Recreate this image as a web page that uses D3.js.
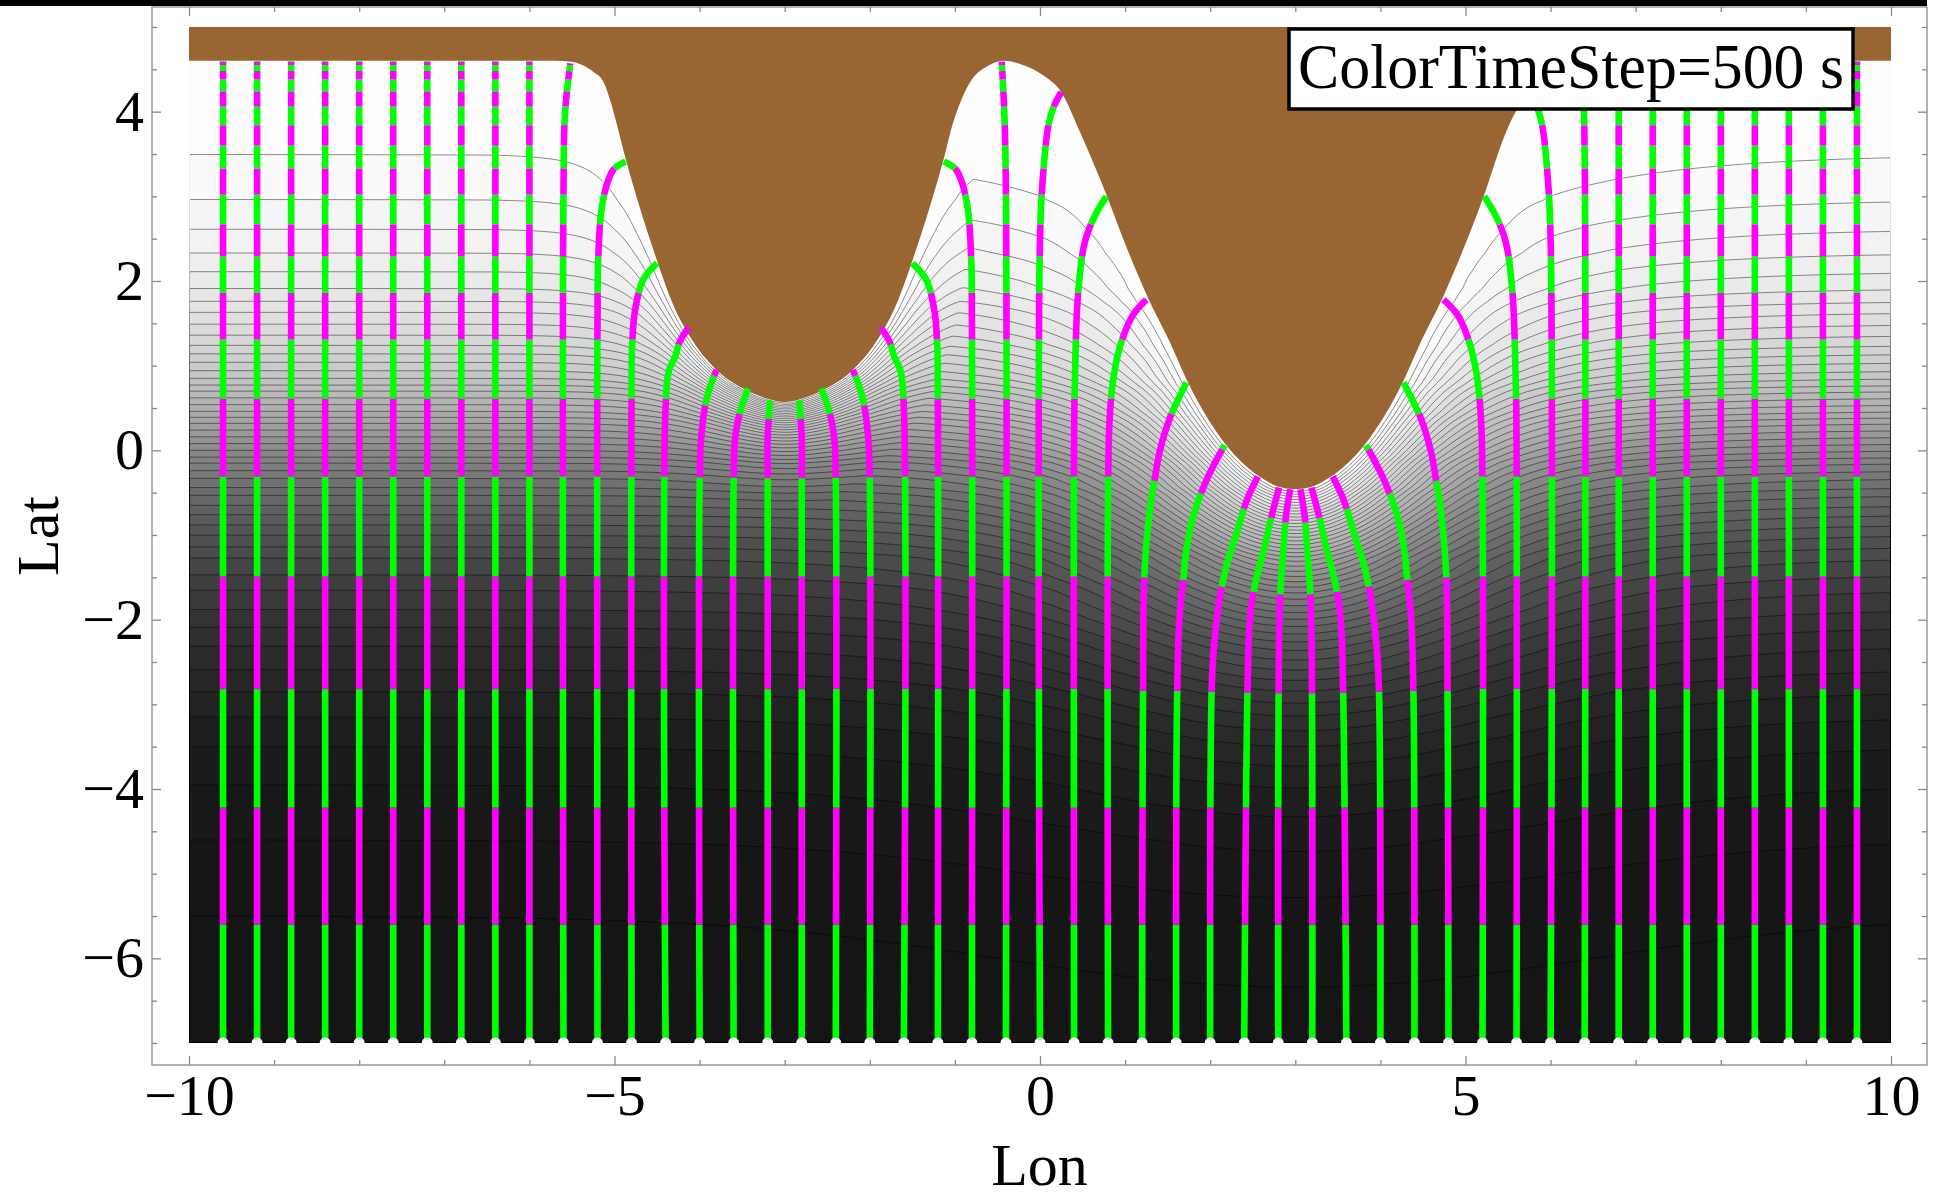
<!DOCTYPE html>
<html><head><meta charset="utf-8">
<script src="https://cdn.jsdelivr.net/npm/d3@7"></script>
<style>body{margin:0;background:#fff}svg{display:block}</style>
</head><body>
<svg id="chart" width="1937" height="1199"></svg>
<script>
// ---------------- data ----------------
const xTicks = [-10, -5, 0, 5, 10];
const xMinorTicks = [-9,-8,-7,-6,-4,-3,-2,-1,1,2,3,4,6,7,8,9];
const yTicks = [-6, -4, -2, 0, 2, 4];
const yMinorTicks = [-7,-6.5,-5.5,-5,-4.5,-3.5,-3,-2.5,-1.5,-1,-0.5,0.5,1,1.5,2.5,3,3.5,4.5,5];
const labelText = "ColorTimeStep=500 s";

// coastline (lon, lat) – land (brown) lies above it
const coastline = [
  [-10,4.6],[-5.7,4.6],[-5.5,4.59],[-5.38,4.55],[-5.25,4.47],[-5.13,4.35],[-5.04,4.1],[-4.97,3.84],[-4.86,3.41],
  [-4.70,2.86],[-4.51,2.27],[-4.31,1.72],[-4.08,1.29],[-3.78,0.93],[-3.45,0.71],[-3.2,0.61],[-3.0,0.57],
  [-2.8,0.61],[-2.55,0.71],[-2.22,0.93],[-1.92,1.29],[-1.69,1.72],[-1.49,2.27],[-1.30,2.86],[-1.14,3.41],
  [-1.03,3.84],[-0.92,4.15],[-0.8,4.38],[-0.63,4.53],[-0.42,4.6],[-0.2,4.55],[0.05,4.42],[0.25,4.23],
  [0.47,3.76],[0.78,3.02],[1.02,2.39],[1.27,1.80],[1.52,1.29],[1.73,0.82],[2.19,0.06],[2.58,-0.31],
  [2.84,-0.44],[3.0,-0.46],[3.16,-0.44],[3.42,-0.31],[3.81,0.06],[4.27,0.82],[4.48,1.29],[4.73,1.80],
  [4.98,2.39],[5.22,3.02],[5.43,3.64],[5.58,3.98],[5.75,4.23],[5.95,4.42],[6.2,4.55],[6.5,4.6],[10,4.6]
];

// latitude of each depth contour far from the headlands (shore -> deep)
const contourLevelLats = [3.49,2.96,2.61,2.33,2.11,1.91,1.76,1.63,1.49,1.36,1.24,1.14,1.04,0.94,0.85,0.77,
  0.70,0.62,0.54,0.46,0.39,0.32,0.24,0.16,0.08,0.0,-0.08,-0.15,-0.24,-0.33,-0.44,-0.53,-0.65,-0.76,-0.88,
  -1.0,-1.14,-1.27,-1.47,-1.65,-1.88,-2.09,-2.31,-2.59,-2.85,-3.15,-3.5,-3.95,-4.6,-5.5];

// how far (in degrees) the shallow water of the coast reaches out, along the coast
const reachByLon = [[-10,0.35],[-5.5,0.35],[-3,0.33],[-1,0.4],[0,0.55],[1,0.8],[2,1.05],[3,1.3],[4,1.05],[5,0.8],[6,0.55],[10,0.35]];

// grey tone of the shading against latitude (far from headlands)
const shadeByLat = [[-7,21],[-5,22],[-4,25],[-3.5,28],[-3,34],[-2.5,41],[-2,51],[-1.5,64],[-1,82],[-0.5,106],
  [0,138],[0.5,176],[1,204],[1.5,222],[2,234],[2.5,242],[3,248],[3.5,252],[4.6,255]];

// rays: start longitudes
const rayStartX = [-9.6,-9.2,-8.8,-8.4,-8.0,-7.6,-7.2,-6.8,-6.4,-6.0,-5.6,-5.2,-4.8,-4.4,-4.0,-3.6,-3.2,-2.8,
  -2.4,-2.0,-1.6,-1.2,-0.8,-0.4,0.0,0.4,0.8,1.2,1.6,2.0,2.4,2.8,3.2,3.6,4.0,4.4,4.8,5.2,5.6,6.0,6.4,6.8,7.2,
  7.6,8.0,8.4,8.8,9.2,9.6];

// bent rays: (lon, lat) points read along each ray
const rayPaths = {
  "-5.6": [[-5.6,-7],[-5.6,3.0],[-5.58,4.0],[-5.52,4.57]],
  "-5.2": [[-5.2,-7],[-5.2,1.5],[-5.19,2.3],[-5.15,2.86],[-5.08,3.17],[-5.0,3.33],[-4.87,3.41]],
  "-4.8": [[-4.8,-7],[-4.8,0.5],[-4.79,1.3],[-4.75,1.7],[-4.66,2.02],[-4.5,2.21]],
  "-4.4": [[-4.4,-7],[-4.4,0.5],[-4.36,0.94],[-4.29,1.10],[-4.23,1.29],[-4.13,1.45]],
  "-4.0": [[-4.0,-7],[-4.0,-0.4],[-3.98,0.16],[-3.93,0.55],[-3.86,0.8],[-3.80,0.95]],
  "-3.6": [[-3.6,-7],[-3.6,-0.4],[-3.58,0.16],[-3.52,0.47],[-3.43,0.73]],
  "-3.2": [[-3.2,-7],[-3.2,-0.4],[-3.2,0.16],[-3.17,0.59]],
  "-2.8": [[-2.8,-7],[-2.8,-0.4],[-2.8,0.16],[-2.83,0.59]],
  "-2.4": [[-2.4,-7],[-2.4,-0.4],[-2.42,0.16],[-2.48,0.47],[-2.57,0.73]],
  "-2.0": [[-2.0,-7],[-2.0,-0.4],[-2.02,0.16],[-2.07,0.55],[-2.14,0.8],[-2.20,0.95]],
  "-1.6": [[-1.6,-7],[-1.6,0.5],[-1.64,0.94],[-1.71,1.10],[-1.77,1.29],[-1.87,1.45]],
  "-1.2": [[-1.2,-7],[-1.2,0.5],[-1.21,1.3],[-1.25,1.7],[-1.34,2.02],[-1.5,2.21]],
  "-0.8": [[-0.8,-7],[-0.8,1.5],[-0.81,2.3],[-0.85,2.86],[-0.92,3.17],[-1.0,3.33],[-1.13,3.41]],
  "-0.4": [[-0.4,-7],[-0.4,3.0],[-0.42,4.0],[-0.45,4.59]],
  "0.0": [[0.0,-7],[0.0,2.5],[0.04,3.3],[0.10,3.84],[0.17,4.08],[0.25,4.23]],
  "0.4": [[0.4,-7],[0.4,0.0],[0.41,0.82],[0.45,1.88],[0.53,2.47],[0.65,2.78],[0.78,3.0]],
  "0.8": [[0.8,-7],[0.8,-0.5],[0.82,0.4],[0.87,0.9],[0.96,1.29],[1.1,1.61],[1.25,1.78]],
  "1.2": [[1.2,-7],[1.21,-3.06],[1.23,-1.41],[1.3,-0.63],[1.34,-0.39],[1.41,0.0],[1.53,0.39],[1.72,0.80]],
  "1.6": [[1.6,-7],[1.61,-3.0],[1.64,-1.96],[1.68,-1.57],[1.72,-1.18],[1.80,-0.78],[1.94,-0.39],[2.07,-0.12],[2.17,0.06]],
  "2.0": [[2.0,-7],[2.02,-2.74],[2.06,-2.16],[2.11,-1.76],[2.19,-1.37],[2.31,-0.98],[2.43,-0.59],[2.56,-0.31]],
  "2.4": [[2.4,-7],[2.44,-2.74],[2.47,-1.96],[2.53,-1.57],[2.63,-1.18],[2.72,-0.78],[2.81,-0.44]],
  "2.8": [[2.8,-7],[2.81,-2.16],[2.83,-1.57],[2.86,-1.18],[2.89,-0.78],[2.94,-0.46]],
  "3.2": [[3.2,-7],[3.19,-2.16],[3.17,-1.57],[3.14,-1.18],[3.11,-0.78],[3.06,-0.46]],
  "3.6": [[3.6,-7],[3.56,-2.74],[3.53,-1.96],[3.47,-1.57],[3.37,-1.18],[3.28,-0.78],[3.19,-0.44]],
  "4.0": [[4.0,-7],[3.98,-2.74],[3.94,-2.16],[3.89,-1.76],[3.81,-1.37],[3.69,-0.98],[3.57,-0.59],[3.44,-0.31]],
  "4.4": [[4.4,-7],[4.39,-3.0],[4.36,-1.96],[4.32,-1.57],[4.28,-1.18],[4.20,-0.78],[4.06,-0.39],[3.93,-0.12],[3.83,0.06]],
  "4.8": [[4.8,-7],[4.79,-3.06],[4.77,-1.41],[4.7,-0.63],[4.66,-0.39],[4.59,0.0],[4.47,0.39],[4.27,0.80]],
  "5.2": [[5.2,-7],[5.2,-0.5],[5.18,0.4],[5.13,0.9],[5.04,1.29],[4.90,1.61],[4.74,1.78]],
  "5.6": [[5.6,-7],[5.6,0.0],[5.59,0.82],[5.55,1.88],[5.47,2.47],[5.35,2.78],[5.22,3.0]],
  "6.0": [[6.0,-7],[6.0,2.5],[5.96,3.3],[5.9,3.84],[5.83,4.08],[5.75,4.23]],
  "6.4": [[6.4,-7],[6.4,3.5],[6.38,4.2],[6.33,4.56]]
};

// latitudes where a ray switches colour (green first, from the bottom)
const flatBreaks = [-5.60,-4.22,-2.82,-1.49,-0.31,0.61,1.31,1.86,2.29,2.67,3.02,3.33,3.60,3.84,4.06,4.24,4.38,4.48,4.55,4.59];
const rayBreaks = {
  "-4.4": [-5.60,-4.22,-2.82,-1.49,-0.31,0.61,1.25],
  "-4.0": [-5.60,-4.22,-2.82,-1.49,-0.32,0.53,0.88],
  "-3.6": [-5.60,-4.22,-2.82,-1.49,-0.32,0.43],
  "-3.2": [-5.60,-4.22,-2.82,-1.49,-0.33,0.37],
  "-2.8": [-5.60,-4.22,-2.82,-1.49,-0.33,0.37],
  "-2.4": [-5.60,-4.22,-2.82,-1.49,-0.32,0.43],
  "-2.0": [-5.60,-4.22,-2.82,-1.49,-0.32,0.53,0.88],
  "-1.6": [-5.60,-4.22,-2.82,-1.49,-0.31,0.61,1.25],
  "1.2": [-5.60,-4.22,-2.84,-1.50,-0.36,0.43],
  "1.6": [-5.60,-4.22,-2.84,-1.53,-0.51,0.01],
  "2.0": [-5.60,-4.22,-2.85,-1.61,-0.69],
  "2.4": [-5.60,-4.22,-2.86,-1.67,-0.80],
  "2.8": [-5.60,-4.22,-2.87,-1.70,-0.85],
  "3.2": [-5.60,-4.22,-2.87,-1.70,-0.85],
  "3.6": [-5.60,-4.22,-2.86,-1.67,-0.80],
  "4.0": [-5.60,-4.22,-2.85,-1.61,-0.69],
  "4.4": [-5.60,-4.22,-2.84,-1.53,-0.51,0.01],
  "4.8": [-5.60,-4.22,-2.84,-1.50,-0.36,0.43]
};

// ---------------- drawing ----------------
const frame = {l:152, r:1927, t:7, b:1065};
const x = d3.scaleLinear().domain([-10,10]).range([189,1891]);
const y = d3.scaleLinear().domain([-7,5]).range([1043,27]);
const svg = d3.select('#chart');
const SERIF = "'Liberation Serif','Times New Roman',serif";
const hidden = svg.append('g').attr('visibility','hidden');

// dense coastline lookup from the smooth coastline curve
const coastGen = d3.line().x(d=>x(d[0])).y(d=>y(d[1])).curve(d3.curveMonotoneX);
const cp = hidden.append('path').attr('d', coastGen(coastline)).node();
const cL = cp.getTotalLength();
const cs = [];
for (let s=0; s<=cL; s+=0.5){ const p=cp.getPointAtLength(s); cs.push([x.invert(p.x), y.invert(p.y)]); }
cs.sort((a,b)=>a[0]-b[0]);
const bis = d3.bisector(d=>d[0]).left;
function coastAt(xv){
  const i = bis(cs, xv);
  if (i<=0) return cs[0][1];
  if (i>=cs.length) return cs[cs.length-1][1];
  const a=cs[i-1], b=cs[i]; const t=(xv-a[0])/((b[0]-a[0])||1e-9);
  return a[1]+t*(b[1]-a[1]);
}

// depth index against latitude
const N = contourLevelLats.length;
const hLat = [-7, ...contourLevelLats.slice().reverse(), 4.6];
const hVal = [N+0.6, ...d3.range(N,0,-1), 0];
const hIdx = d3.scaleLinear().domain(hLat).range(hVal).clamp(true);
const latOfIdx = d3.scaleLinear().domain(hVal.slice().reverse()).range(hLat.slice().reverse()).clamp(true);
const reach = d3.scaleLinear().domain(reachByLon.map(d=>d[0])).range(reachByLon.map(d=>d[1])).clamp(true);
const shade = d3.scaleLinear().domain(shadeByLat.map(d=>d[0])).range(shadeByLat.map(d=>d[1])).clamp(true);
const grey = v => { const g=Math.round(v); return `rgb(${g},${g},${g})`; };

// shallow-water influence of every coast point
const ks = [];
{ let lx=-99, ly=-99;
  for (const c of cs){
    const B = hIdx(c[1]);
    if (B < 0.02) continue;
    if (Math.hypot(c[0]-lx, c[1]-ly) < 0.035) continue;
    ks.push({x:c[0], y:c[1], B, lam:reach(c[0])}); lx=c[0]; ly=c[1];
  }
}
const nx=620, ny=372, dx=20/nx, dy=12/ny;
const values = new Float64Array(nx*ny);
const cCol = new Float64Array(nx);
for (let i=0;i<nx;i++) cCol[i]=coastAt(-10+(i+0.5)*dx);
for (let j=0;j<ny;j++){
  const lat = 5-(j+0.5)*dy, hl=hIdx(lat);
  for (let i=0;i<nx;i++){
    const xv=-10+(i+0.5)*dx, c=cCol[i];
    if (lat > c){ values[j*nx+i] = hl - hIdx(c); continue; }
    let I = 0;
    for (let k=0;k<ks.length;k++){
      const s=ks[k]; const ax=Math.abs(xv-s.x);
      if (s.B*Math.exp(-ax/s.lam) <= I) continue;
      const ay=lat-s.y; const dd=Math.sqrt(ax*ax+ay*ay);
      const v=s.B*Math.exp(-dd/s.lam); if (v>I) I=v;
    }
    values[j*nx+i] = hl - I;
  }
}
const thresholds = d3.range(1, N+1);
const contours = d3.contours().size([nx,ny]).thresholds(thresholds)(values);
const proj = d3.geoTransform({point:function(px,py){ this.stream.point(x(-10+px*dx), y(5-py*dy)); }});
const gpath = d3.geoPath(proj);

svg.append('defs').append('clipPath').attr('id','fieldClip').append('rect')
  .attr('x',x(-10)+0.8).attr('y',y(5)).attr('width',x(10)-x(-10)-1.6).attr('height',y(-7)-y(5)-0.8);

const field = svg.append('g');
field.append('rect').attr('x',x(-10)).attr('y',y(5)).attr('width',x(10)-x(-10)).attr('height',y(-7)-y(5))
  .attr('fill', grey(shade(latOfIdx(0.5))));
field.selectAll('path.band').data(contours).join('path').attr('class','band')
  .attr('d', gpath).attr('fill', d=>grey(shade(latOfIdx(d.value+0.5)))).attr('stroke','none');
field.append('g').attr('clip-path','url(#fieldClip)').selectAll('path').data(contours).join('path')
  .attr('d', gpath).attr('fill','none').attr('stroke','#000').attr('stroke-opacity',0.45).attr('stroke-width',1);

// land
const landD = coastGen(coastline) + `L${x(10)},${y(5)}L${x(-10)},${y(5)}Z`;
svg.append('path').attr('d', landD).attr('fill','#996633');

// rays
const rayLine = d3.line().x(d=>x(d[0])).y(d=>y(d[1])).curve(d3.curveCatmullRom.alpha(0.5));
const rayG = svg.append('g').attr('fill','none').attr('stroke-width',6.6).attr('stroke-linecap','butt');
const segLine = d3.line();
rayStartX.forEach(x0=>{
  const key = x0.toFixed(1);
  const pts = rayPaths[key] || [[x0,-7],[x0,coastAt(x0)]];
  const brk = rayBreaks[key] || flatBreaks;
  const n = hidden.append('path').attr('d', rayLine(pts)).node();
  const L = n.getTotalLength();
  const sm = [];
  for (let s=0;s<L;s+=1){ const p=n.getPointAtLength(s); sm.push([p.x,p.y]); }
  const pe=n.getPointAtLength(L); sm.push([pe.x,pe.y]);
  let ci = d3.bisectRight(brk, y.invert(sm[0][1]));
  let cur = [sm[0]];
  const emit = (seg, idx) => { if (seg.length>1) rayG.append('path').attr('d', segLine(seg)).attr('stroke', idx%2===0 ? '#00ff00' : '#ff00ff'); };
  for (let k=1;k<sm.length;k++){
    const p = sm[k], idx = d3.bisectRight(brk, y.invert(p[1]));
    if (idx!==ci){
      const b = idx>ci ? brk[ci] : brk[idx];
      const yb = y(b), q = sm[k-1];
      const t = (yb-q[1])/((p[1]-q[1])||1e-9);
      const c = [q[0]+t*(p[0]-q[0]), yb];
      cur.push(c); emit(cur, ci); cur=[c]; ci=idx;
    }
    cur.push(p);
  }
  emit(cur, ci);
});
// small white notches at the foot of each ray
svg.append('g').selectAll('circle').data(rayStartX).join('circle')
  .attr('cx', d=>x(d)).attr('cy', y(-7)).attr('r', 5.5).attr('fill','#fff');

// frame + ticks
svg.append('rect').attr('x',frame.l).attr('y',frame.t).attr('width',frame.r-frame.l).attr('height',frame.b-frame.t)
  .attr('fill','none').attr('stroke','#8a8a8a').attr('stroke-width',1.3);
function styleAxis(g){
  g.select('.domain').remove();
  g.selectAll('line').attr('stroke','#8a8a8a').attr('stroke-width',1.3);
  g.selectAll('text').attr('font-family',SERIF).attr('font-size',58).attr('fill','#000');
}
const fmt = d3.format('d');
svg.append('g').attr('transform',`translate(0,${frame.b})`).call(d3.axisBottom(x).tickValues(xTicks).tickSize(-9).tickPadding(9).tickFormat(fmt)).call(styleAxis);
svg.append('g').attr('transform',`translate(0,${frame.b})`).call(d3.axisBottom(x).tickValues(xMinorTicks).tickSize(-5).tickFormat('')).call(styleAxis);
svg.append('g').attr('transform',`translate(0,${frame.t})`).call(d3.axisTop(x).tickValues(xTicks).tickSize(-9).tickFormat('')).call(styleAxis);
svg.append('g').attr('transform',`translate(0,${frame.t})`).call(d3.axisTop(x).tickValues(xMinorTicks).tickSize(-5).tickFormat('')).call(styleAxis);
svg.append('g').attr('transform',`translate(${frame.l},0)`).call(d3.axisLeft(y).tickValues(yTicks).tickSize(-9).tickPadding(8).tickFormat(fmt)).call(styleAxis);
svg.append('g').attr('transform',`translate(${frame.l},0)`).call(d3.axisLeft(y).tickValues(yMinorTicks).tickSize(-5).tickFormat('')).call(styleAxis);
svg.append('g').attr('transform',`translate(${frame.r},0)`).call(d3.axisRight(y).tickValues(yTicks).tickSize(-9).tickFormat('')).call(styleAxis);
svg.append('g').attr('transform',`translate(${frame.r},0)`).call(d3.axisRight(y).tickValues(yMinorTicks).tickSize(-5).tickFormat('')).call(styleAxis);

// axis titles
svg.append('text').attr('x', (frame.l+frame.r)/2).attr('y', 1185).attr('text-anchor','middle')
  .attr('font-family',SERIF).attr('font-size',60).text('Lon');
svg.append('text').attr('transform',`translate(58,${(frame.t+frame.b)/2}) rotate(-90)`).attr('text-anchor','middle')
  .attr('font-family',SERIF).attr('font-size',60).text('Lat');

// label box
svg.append('rect').attr('x',1289).attr('y',29).attr('width',564).attr('height',80)
  .attr('fill','#fff').attr('stroke','#000').attr('stroke-width',3.5);
svg.append('text').attr('x',1571).attr('y',88).attr('text-anchor','middle')
  .attr('font-family',SERIF).attr('font-size',63).attr('textLength',546).attr('lengthAdjust','spacingAndGlyphs')
  .text(labelText);

// dark strip along the very top
svg.append('rect').attr('x',0).attr('y',0).attr('width',frame.r).attr('height',6).attr('fill','#000');
hidden.remove();
</script>
</body></html>
